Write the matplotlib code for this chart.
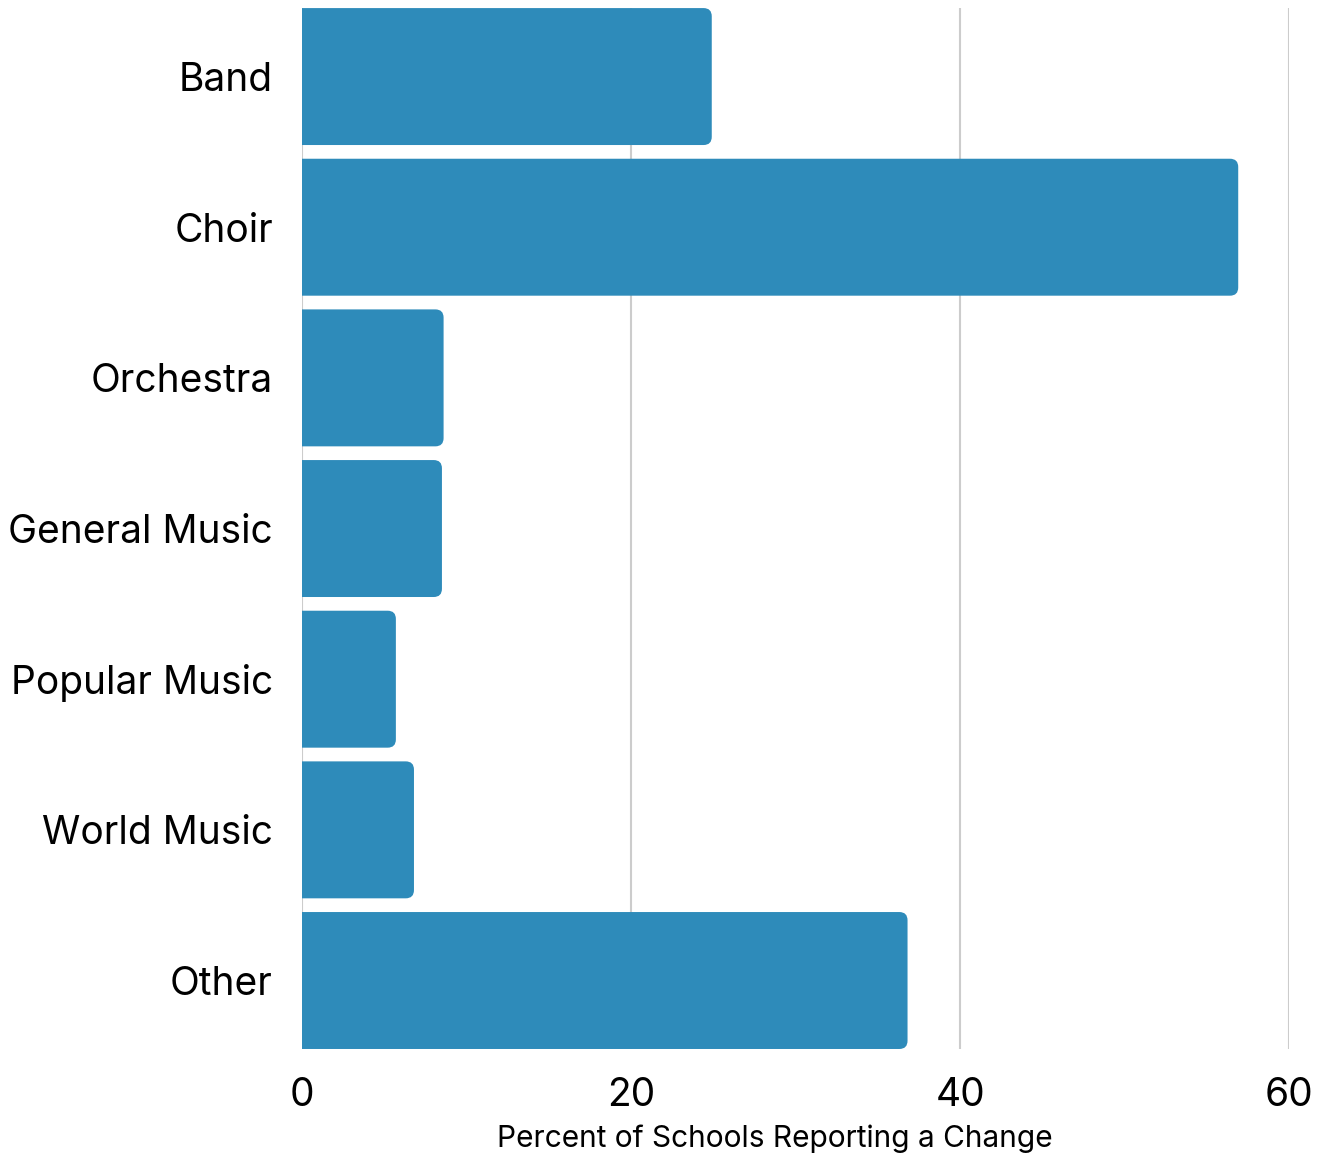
import matplotlib.pyplot as plt
from matplotlib.patches import FancyBboxPatch

plt.rcParams['font.family'] = ['Inter', 'DejaVu Sans']

categories = ["Band", "Choir", "Orchestra", "General Music",
              "Popular Music", "World Music", "Other"]
percents = [24.9, 56.9, 8.6, 8.5, 5.7, 6.8, 36.8]

bar_color = '#2e8bba'
bar_h = 0.909

fig = plt.figure(figsize=(13.25, 11.54), dpi=100)
ax = fig.add_axes([0.228, 0.091, 0.745, 0.902])

# draw plain bars first to get geometry, then swap for rounded ones
bars = ax.barh(range(len(categories)), percents, height=bar_h, color=bar_color)
# pixel scale: x ~16.45 px/unit, y ~150.7 px/unit
aspect = 16.45 / 150.7
for b in bars:
    x, y = b.get_x(), b.get_y()
    w, h = b.get_width(), b.get_height()
    b.set_visible(False)
    p = FancyBboxPatch((x - 1, y), w + 1, h,
                       boxstyle="round,pad=0,rounding_size=0.5",
                       mutation_aspect=aspect,
                       facecolor=bar_color, edgecolor='none', zorder=3)
    p.set_clip_path(ax.patch)
    ax.add_patch(p)

ax.set_xlim(0, 60)
ax.set_ylim(len(categories) - 1 + bar_h / 2, -bar_h / 2)
ax.set_xticks([0, 20, 40, 60])
ax.set_yticks(range(len(categories)))
ax.set_yticklabels(categories)

ax.grid(axis='x', color='#cccccc', linewidth=1.5, zorder=0)
ax.set_axisbelow(True)
for s in ax.spines.values():
    s.set_visible(False)
ax.tick_params(axis='both', length=0, labelsize=28)
ax.tick_params(axis='y', pad=21)
ax.tick_params(axis='x', pad=20)

ax.set_xlabel("Percent of Schools Reporting a Change", fontsize=21.5, labelpad=8)
ax.xaxis.label.set_x(0.479)

fig.savefig("out.png", dpi=100)
